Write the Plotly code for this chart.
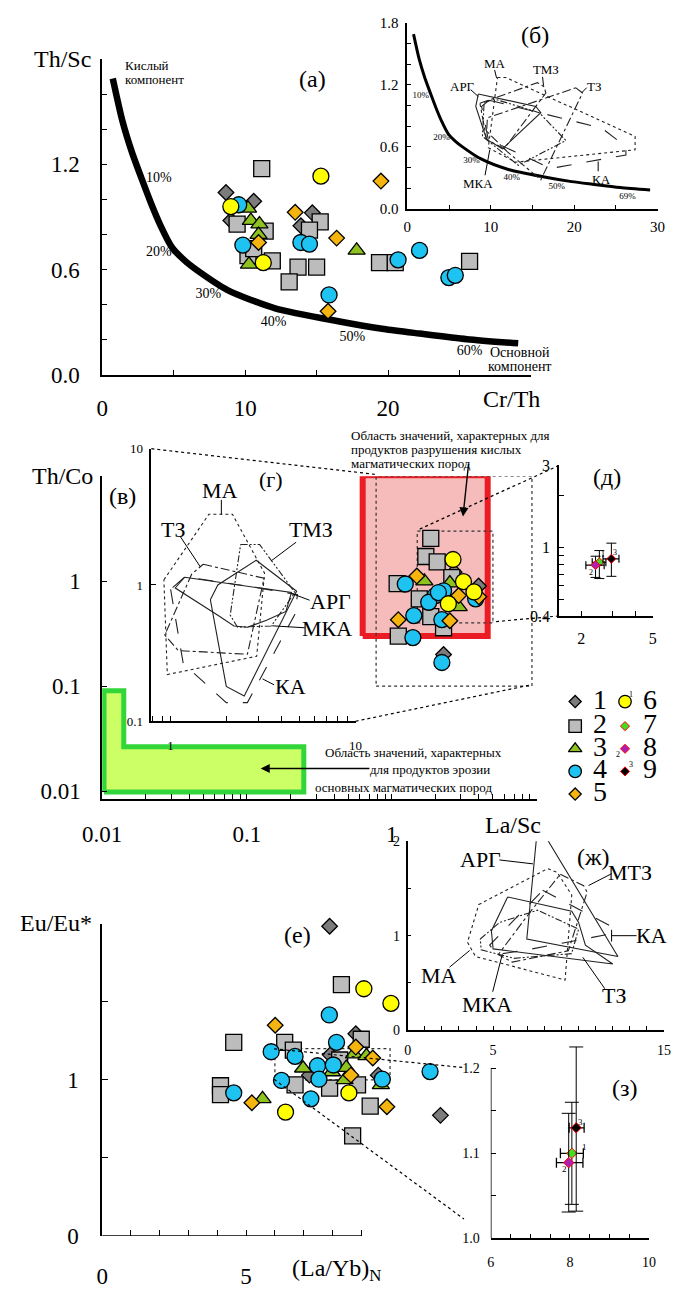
import plotly.graph_objects as go
import math

W, H = 680, 1293
FONT = "'Liberation Serif', 'Times New Roman', Times, 'DejaVu Serif', serif"


def dx(p):
    return p / W


def dy(p):
    return 1 - p / H


# ======================= DATA =======================
# ---- Panel (а): Cr/Th (x) vs Th/Sc (y) ----
a1_x = [8.66, 10.6, 9.0, 14.7, 13.9]
a1_y = [1.04, 0.99, 0.88, 0.924, 0.85]
a2_x = [11.16, 9.44, 11.4, 10.2, 10.6, 11.9, 13.7, 15.0, 13.08, 15.25, 14.5, 19.4, 20.5, 25.7]
a2_y = [1.176, 0.86, 0.82, 0.68, 0.72, 0.65, 0.615, 0.615, 0.53, 0.873, 0.826, 0.64, 0.64, 0.647]
a3_x = [10.2, 10.4, 11.0, 10.94, 10.27, 17.8]
a3_y = [0.95, 0.88, 0.86, 0.80, 0.63, 0.71]
a4_x = [9.55, 9.84, 13.9, 14.5, 15.87, 20.7, 22.2, 24.25, 24.7]
a4_y = [0.97, 0.74, 0.755, 0.746, 0.456, 0.656, 0.71, 0.555, 0.568]
a5_x = [10.94, 15.8, 13.5, 16.4, 19.5]
a5_y = [0.755, 0.363, 0.927, 0.78, 1.105]
a6_x = [15.3, 9.0, 11.27]
a6_y = [1.133, 0.96, 0.64]

# mixing curve (acid - basic component)
mix_x = [0.74, 1.41, 2.08, 2.8, 3.41, 4.09, 4.9, 5.8, 6.65, 8.77, 12.1, 16.6, 19.7, 22.2, 25.5, 29.1]
mix_y = [1.69, 1.45, 1.27, 1.11, 0.98, 0.85, 0.725, 0.65, 0.596, 0.484, 0.38, 0.305, 0.262, 0.236, 0.204, 0.18]
pct_a_text = ["10%", "20%", "30%", "40%", "50%", "60%"]
pct_a_x = [3.97, 3.97, 7.43, 12.0, 17.5, 25.7]
pct_a_y = [1.12, 0.70, 0.46, 0.30, 0.213, 0.135]

# ---- Inset (б) ----
pct_b_text = ["10%", "20%", "30%", "40%", "50%", "69%"]
pct_b_x = [1.6, 4.1, 7.7, 12.5, 17.9, 26.4]
pct_b_y = [1.09, 0.69, 0.46, 0.30, 0.21, 0.12]
b_MA_x = [10.8, 11.8, 27.3, 27.3, 13.0, 9.7, 10.8]
b_MA_y = [1.27, 1.27, 0.70, 0.57, 0.45, 0.59, 1.27]
b_TMZ_x = [8.7, 15.6, 16.4, 16.6, 11.6, 9.5, 8.7]
b_TMZ_y = [1.02, 1.22, 1.18, 1.12, 0.58, 0.67, 1.02]
b_TZ_x = [20.2, 21.0, 16.0, 12.0, 9.5, 9.6, 20.2]
b_TZ_y = [1.17, 1.12, 0.28, 0.55, 0.75, 0.88, 1.17]
b_ARG_x = [8.5, 15.4, 16.0, 11.4, 9.5, 8.2, 8.5]
b_ARG_y = [1.11, 0.99, 0.93, 0.58, 0.67, 0.99, 1.11]
b_KA_x = [9.8, 23.3, 26.2, 26.2, 17.2, 9.7, 8.9, 9.8]
b_KA_y = [1.05, 0.78, 0.60, 0.52, 0.39, 0.67, 0.99, 1.05]
b_MKA_x = [9.2, 10.5, 15.8, 19.0, 13.3, 9.0, 9.2]
b_MKA_y = [1.03, 1.06, 0.93, 0.66, 0.42, 0.70, 1.03]

# ---- Panel (в): La/Sc (x) vs Th/Co (y), log-log ----
v1_x = [2.7, 3.98, 2.28]
v1_y = [1.22, 0.90, 0.20]
v2_x = [1.86, 1.72, 2.06, 2.6, 1.09, 1.55, 1.86, 1.11, 2.28]
v2_y = [2.56, 1.72, 1.53, 1.08, 0.95, 0.68, 0.46, 0.30, 0.36]
v3_x = [1.68, 2.52, 2.9]
v3_y = [1.0, 0.96, 0.57]
v4_x = [1.24, 2.28, 2.0, 1.8, 3.8, 1.42, 2.22, 1.40, 2.22, 2.1]
v4_y = [0.94, 0.81, 0.73, 0.63, 0.68, 0.47, 0.43, 0.29, 0.168, 0.78]
v5_x = [1.49, 2.9, 2.52, 1.11, 4.0]
v5_y = [1.12, 0.73, 0.42, 0.43, 0.71]
v6_x = [2.65, 3.13, 3.7, 2.46]
v6_y = [1.61, 0.99, 0.79, 0.61]

acid_x = [0.63, 4.6]       # field of acid-rock products
acid_y = [0.30, 10.2]
basic_x = [0.0103, 0.0103, 0.0141, 0.0141, 0.247, 0.247, 0.0103]   # field of basic-rock products
basic_y = [0.0098, 0.0905, 0.0905, 0.0265, 0.0265, 0.0098, 0.0098]
box_g_x = [0.78, 9.3]      # area magnified in (г)
box_g_y = [0.1, 10.0]
box_d_x = [1.5, 5.0]       # area magnified in (д)
box_d_y = [0.4, 3.0]

# ---- Inset (г) polygons ----
g_MA_x = [0.92, 1.61, 2.16, 3.22, 2.92, 0.96, 0.92]
g_MA_y = [1.09, 3.3, 3.3, 1.22, 0.30, 0.22, 1.09]
g_TZ_x = [1.5, 3.2, 2.6, 1.1, 0.93, 1.3, 1.5]
g_TZ_y = [1.42, 1.12, 0.31, 0.33, 0.43, 1.2, 1.42]
g_ARG_x = [1.19, 4.5, 4.2, 3.3, 2.6, 2.2, 1.8, 1.06, 1.19]
g_ARG_y = [1.14, 0.88, 0.64, 0.55, 0.49, 0.50, 0.60, 0.95, 1.14]
g_TMZ_x = [1.64, 1.8, 2.9, 4.8, 2.5, 2.0, 1.64]
g_TMZ_y = [0.78, 1.0, 1.52, 0.9, 0.153, 0.18, 0.78]
g_MKA_x = [2.39, 3.03, 4.7, 3.5, 2.3, 2.1, 2.39]
g_MKA_y = [1.98, 1.98, 0.88, 0.5, 0.49, 0.6, 1.98]
g_KA_x = [1.0, 1.17, 2.0, 2.6, 4.7, 4.85, 3.0, 1.2, 1.0]
g_KA_y = [0.93, 0.265, 0.137, 0.137, 0.61, 0.85, 0.95, 1.15, 0.93]

# ---- Inset (д): averages 7, 8, 9 ----
d_x = [2.52, 2.40, 2.94]
d_y = [0.82, 0.79, 0.86]
d_xerr = [0.22, 0.28, 0.30]
d_yerr_p = [0.14, 0.10, 0.20]
d_yerr_m = [0.16, 0.12, 0.18]

# ---- Panel (е): (La/Yb)N vs Eu/Eu* ----
e1_x = [7.9, 8.81, 7.92, 7.2, 9.59, 11.75]
e1_y = [1.985, 1.295, 1.16, 1.03, 1.03, 0.772]
e2_x = [8.31, 4.57, 6.34, 9.0, 6.64, 8.25, 6.7, 7.9, 8.87, 4.11, 4.11, 9.31, 8.7]
e2_y = [1.61, 1.24, 1.24, 1.26, 1.19, 1.127, 0.968, 0.947, 0.968, 0.962, 0.905, 0.831, 0.641]
e3_x = [8.75, 9.18, 6.98, 8.48, 7.98, 9.68, 8.42, 5.57]
e3_y = [1.165, 1.154, 1.074, 1.078, 1.05, 0.968, 1.0, 0.878]
e4_x = [7.89, 8.14, 5.87, 6.7, 7.48, 8.03, 6.23, 7.53, 9.73, 4.57, 7.25, 11.39]
e4_y = [1.416, 1.24, 1.18, 1.15, 1.09, 1.095, 0.996, 1.004, 1.004, 0.916, 0.878, 1.053]
e5_x = [6.01, 8.81, 9.4, 8.64, 5.2, 9.89]
e5_y = [1.35, 1.21, 1.14, 1.03, 0.853, 0.827]
e6_x = [9.09, 10.03, 8.57, 6.37]
e6_y = [1.584, 1.49, 0.916, 0.793]
box_z_x = [6.0, 10.0]     # area magnified in (з)
box_z_y = [1.0, 1.2]

# ---- Inset (ж) polygons ----
zh_ARG_x = [7.53, 8.1, 12.3, 6.97, 7.53]
zh_ARG_y = [2.02, 2.04, 0.78, 0.965, 2.02]
zh_MA_x = [4.16, 8.19, 8.75, 9.6, 9.21, 3.97, 3.5, 4.16]
zh_MA_y = [1.33, 1.71, 1.67, 1.43, 0.53, 0.78, 0.93, 1.33]
zh_MTZ_x = [8.93, 10.3, 10.5, 9.4, 6.12, 5.3, 7.25, 8.93]
zh_MTZ_y = [1.65, 1.53, 1.46, 0.84, 0.72, 0.80, 1.27, 1.65]
zh_KA_x = [7.9, 11.9, 11.9, 7.0, 5.2, 4.8, 7.9]
zh_KA_y = [1.48, 1.10, 1.02, 0.85, 0.80, 0.90, 1.48]
zh_TZ_x = [5.85, 9.6, 10.0, 10.4, 12.0, 5.0, 4.9, 5.85]
zh_TZ_y = [1.41, 1.26, 1.14, 0.90, 0.70, 0.86, 1.05, 1.41]
zh_MKA_x = [4.25, 5.38, 7.6, 10.0, 9.59, 6.22, 4.3, 4.25]
zh_MKA_y = [0.965, 1.14, 1.27, 1.07, 0.81, 0.76, 0.85, 0.965]

# ---- Inset (з): averages 7, 8, 9 ----
z_x = [8.05, 7.97, 8.16]
z_y = [1.10, 1.089, 1.13]
z_xerr_p = [0.29, 0.36, 0.20]
z_xerr_m = [0.29, 0.31, 0.18]
z_yerr_p = [0.06, 0.058, 0.095]
z_yerr_m = [0.06, 0.058, 0.098]

legend_labels = ["1", "2", "3", "4", "5", "6", "7", "8", "9"]

# ======================= STYLES =======================
GS = {
    1: ("diamond", "#7c7c7c", 12),
    2: ("square", "#bcbcbc", 16),
    3: ("triangle-up", "#8dc21f", 15),
    4: ("circle", "#1fc3f1", 16),
    5: ("diamond", "#f6b50e", 12),
    6: ("circle", "#ffff00", 16),
}
AVG = {7: "#44dd22", 8: "#b020b0", 9: "#000000"}

fig = go.Figure()


def pts(g, x, y, xa, ya, scale=1.0):
    sym, col, sz = GS[g]
    fig.add_trace(go.Scatter(x=x, y=y, xaxis=xa, yaxis=ya, mode="markers",
                             marker=dict(symbol=sym, color=col, size=sz * scale,
                                         line=dict(color="black", width=1.3)),
                             cliponaxis=False, hoverinfo="skip"))


def poly(x, y, xa, ya, dash, w=1.1, col="#222"):
    fig.add_trace(go.Scatter(x=x, y=y, xaxis=xa, yaxis=ya, mode="lines",
                             line=dict(color=col, width=w, dash=dash), hoverinfo="skip"))


DDOT = "7px,2px,2px,2px,2px,2px"

# ---- (а) ----
fig.add_trace(go.Scatter(x=mix_x, y=mix_y, xaxis="x", yaxis="y", mode="lines",
                         line=dict(color="black", width=6.5, shape="spline", smoothing=0.7), hoverinfo="skip"))
fig.add_trace(go.Scatter(x=pct_a_x, y=pct_a_y, xaxis="x", yaxis="y", mode="text", text=pct_a_text,
                         textfont=dict(family=FONT, size=14, color="black"), hoverinfo="skip"))
for g, (xx, yy) in zip(range(1, 7), [(a1_x, a1_y), (a2_x, a2_y), (a3_x, a3_y), (a4_x, a4_y), (a5_x, a5_y), (a6_x, a6_y)]):
    pts(g, xx, yy, "x", "y")

# ---- (б) ----
fig.add_trace(go.Scatter(x=mix_x, y=mix_y, xaxis="x2", yaxis="y2", mode="lines",
                         line=dict(color="black", width=3, shape="spline", smoothing=0.7), hoverinfo="skip"))
fig.add_trace(go.Scatter(x=pct_b_x, y=pct_b_y, xaxis="x2", yaxis="y2", mode="text", text=pct_b_text,
                         textfont=dict(family=FONT, size=9, color="black"), hoverinfo="skip"))
poly(b_MA_x, b_MA_y, "x2", "y2", "dot")
poly(b_TMZ_x, b_TMZ_y, "x2", "y2", "dashdot")
poly(b_TZ_x, b_TZ_y, "x2", "y2", "dashdot")
poly(b_ARG_x, b_ARG_y, "x2", "y2", "solid")
poly(b_KA_x, b_KA_y, "x2", "y2", "longdash")
poly(b_MKA_x, b_MKA_y, "x2", "y2", DDOT)

# ---- (в) ----
fig.add_trace(go.Scatter(x=basic_x, y=basic_y, xaxis="x3", yaxis="y3", mode="lines", fill="toself",
                         fillcolor="#ccff66", line=dict(color="#33d63a", width=5), hoverinfo="skip"))
fig.add_trace(go.Scatter(x=[acid_x[0], acid_x[1], acid_x[1], acid_x[0], acid_x[0]],
                         y=[acid_y[0], acid_y[0], acid_y[1], acid_y[1], acid_y[0]],
                         xaxis="x3", yaxis="y3", mode="lines", fill="toself",
                         fillcolor="#f6bcbc", line=dict(color="#ec1c24", width=6), hoverinfo="skip"))
for bx, by in [(box_g_x, box_g_y), (box_d_x, box_d_y)]:
    poly([bx[0], bx[1], bx[1], bx[0], bx[0]], [by[0], by[0], by[1], by[1], by[0]], "x3", "y3", "dot", 1.2, "#333")
for g, (xx, yy) in zip(range(1, 7), [(v1_x, v1_y), (v2_x, v2_y), (v3_x, v3_y), (v4_x, v4_y), (v5_x, v5_y), (v6_x, v6_y)]):
    pts(g, xx, yy, "x3", "y3")

# ---- (г) ----
poly(g_MA_x, g_MA_y, "x4", "y4", "dot")
poly(g_TZ_x, g_TZ_y, "x4", "y4", "dashdot")
poly(g_ARG_x, g_ARG_y, "x4", "y4", "solid")
poly(g_TMZ_x, g_TMZ_y, "x4", "y4", "solid")
poly(g_MKA_x, g_MKA_y, "x4", "y4", DDOT)
poly(g_KA_x, g_KA_y, "x4", "y4", "longdash")

# ---- (д) ----
for i, k in enumerate([7, 8, 9]):
    fig.add_trace(go.Scatter(x=[d_x[i]], y=[d_y[i]], xaxis="x5", yaxis="y5", mode="markers",
                             marker=dict(symbol="diamond", size=7, color=AVG[k], line=dict(color="red", width=1)),
                             error_x=dict(type="data", array=[d_xerr[i]], color="black", thickness=1.2, width=4),
                             error_y=dict(type="data", array=[d_yerr_p[i]], arrayminus=[d_yerr_m[i]],
                                          color="black", thickness=1, width=5),
                             cliponaxis=False, hoverinfo="skip"))

# ---- (е) ----
poly([box_z_x[0], box_z_x[1], box_z_x[1], box_z_x[0], box_z_x[0]],
     [box_z_y[0], box_z_y[0], box_z_y[1], box_z_y[1], box_z_y[0]], "x6", "y6", "dot", 1.2, "#333")
for g, (xx, yy) in zip(range(1, 7), [(e1_x, e1_y), (e2_x, e2_y), (e3_x, e3_y), (e4_x, e4_y), (e5_x, e5_y), (e6_x, e6_y)]):
    pts(g, xx, yy, "x6", "y6")

# ---- (ж) ----
poly(zh_ARG_x, zh_ARG_y, "x7", "y7", "solid")
poly(zh_MA_x, zh_MA_y, "x7", "y7", "dot")
poly(zh_MTZ_x, zh_MTZ_y, "x7", "y7", "dashdot")
poly(zh_KA_x, zh_KA_y, "x7", "y7", "longdash")
poly(zh_TZ_x, zh_TZ_y, "x7", "y7", "solid")
poly(zh_MKA_x, zh_MKA_y, "x7", "y7", DDOT)

# ---- (з) ----
for i, k in enumerate([7, 8, 9]):
    fig.add_trace(go.Scatter(x=[z_x[i]], y=[z_y[i]], xaxis="x8", yaxis="y8", mode="markers",
                             marker=dict(symbol="diamond", size=8, color=AVG[k], line=dict(color="red", width=1)),
                             error_x=dict(type="data", array=[z_xerr_p[i]], arrayminus=[z_xerr_m[i]],
                                          color="black", thickness=1.3, width=5),
                             error_y=dict(type="data", array=[z_yerr_p[i]], arrayminus=[z_yerr_m[i]],
                                          color="black", thickness=1, width=7),
                             cliponaxis=False, hoverinfo="skip"))

# ---- legend keys (page pixel overlay) ----
leg_px = [(579, 705), (579, 730), (579, 753), (579, 776), (579, 799), (631, 705), (631, 730), (631, 753), (631, 776)]
for i, (lx, ly) in enumerate(leg_px):
    g = i + 1
    if g <= 6:
        sym, col, sz = GS[g]
        mk = dict(symbol=sym, color=col, size=sz * 0.78, line=dict(color="black", width=1.3))
    else:
        mk = dict(symbol="diamond", color=AVG[g], size=7, line=dict(color="red", width=1))
    fig.add_trace(go.Scatter(x=[lx], y=[ly], xaxis="x9", yaxis="y9", mode="markers", marker=mk,
                             cliponaxis=False, hoverinfo="skip"))
    fig.add_trace(go.Scatter(x=[lx + 26], y=[ly], xaxis="x9", yaxis="y9", mode="text",
                             text=[legend_labels[i]], textfont=dict(family=FONT, size=28, color="black"),
                             cliponaxis=False, hoverinfo="skip"))


# ======================= AXES =======================
def axis(dom_px, rng, horiz, typ="linear", tv=None, tt=None, size=22, standoff=0, ticklen=5,
         showline=True, anchor=None):
    if horiz:
        dom = [dx(dom_px[0]), dx(dom_px[1])]
    else:
        dom = [dy(dom_px[1]), dy(dom_px[0])]
    return dict(domain=dom, range=rng, type=typ, tickmode="array", tickvals=tv, ticktext=tt,
                ticks="inside", ticklen=ticklen, tickwidth=1.3, tickcolor="black",
                showline=showline, linecolor="black", linewidth=1.5, showgrid=False,
                zeroline=False, tickfont=dict(family=FONT, size=size, color="black"),
                ticklabelstandoff=standoff, anchor=anchor, fixedrange=True)


def lbl(vals, show, fmt):
    return [fmt(v) if any(abs(v - s) < 1e-9 for s in show) else "" for v in vals]


# (а)
xa_t = [0, 5, 10, 15, 20, 25, 30]
ya_t = [0, 0.2, 0.4, 0.6, 0.8, 1.0, 1.2, 1.4, 1.6, 1.8]
lay = dict(
    xaxis=axis([85.7, 533], [0, 30], True, tv=xa_t, tt=lbl(xa_t, [0, 10, 20], lambda v: f"{v:g}"),
               size=23, standoff=12, anchor="y"),
    yaxis=axis([52, 373], [0, 1.8], False, tv=ya_t, tt=lbl(ya_t, [0, 0.6, 1.2], lambda v: f"{v:.1f}"),
               size=23, standoff=16, anchor="x"),
)
# (б)
xb_t = [0, 5, 10, 15, 20, 25, 30]
yb_t = ya_t
lay["xaxis2"] = axis([404, 665], [0, 30], True, tv=xb_t, tt=lbl(xb_t, [0, 10, 20, 30], lambda v: f"{v:g}"),
                     size=15, standoff=4, ticklen=4, anchor="y2")
lay["yaxis2"] = axis([15, 204], [0, 1.8], False, tv=yb_t, tt=lbl(yb_t, [0, 0.6, 1.2, 1.8], lambda v: f"{v:.1f}"),
                     size=15, standoff=4, ticklen=4, anchor="x2")
# (в)
xv_t = [m * 10 ** e for e in (-2, -1, 0) for m in range(1, 10)] + [10]
xv_tt = ["0.01" if v == 0.01 else "0.1" if abs(v - 0.1) < 1e-12 else "1" if v == 1 else "" for v in xv_t]
yv_t = [0.01, 0.1, 1, 10]
lay["xaxis3"] = axis([85.7, 538.7], [-2, 1], True, typ="log", tv=xv_t, tt=xv_tt, size=23, standoff=14, anchor="y3")
lay["yaxis3"] = axis([476, 804], [-2.075, 1], False, typ="log", tv=yv_t, tt=["0.01", "0.1", "1", ""],
                     size=23, standoff=15, anchor="x3")
# (г)
xg_t = [0.8, 0.9] + list(range(1, 11))
lay["xaxis4"] = axis([137, 350], [math.log10(0.787), 1.0], True, typ="log", tv=xg_t,
                     tt=["1" if v == 1 else "10" if v == 10 else "" for v in xg_t],
                     size=13, standoff=11, ticklen=5, anchor="y4")
lay["yaxis4"] = axis([448, 725], [-1, 1], False, typ="log", tv=[0.1, 1, 10], tt=["0.1", "1", "10"],
                     size=13, standoff=4, ticklen=5, anchor="x4")
# (д)
xd_t = [2, 3, 4, 5]
yd_t = [0.4, 0.5, 0.6, 0.7, 0.8, 0.9, 1, 2, 3]
lay["xaxis5"] = axis([562, 660], [math.log10(1.5), math.log10(5)], True, typ="log", tv=xd_t,
                     tt=["2", "", "", "5"], size=16, standoff=7, ticklen=5, anchor="y5")
lay["yaxis5"] = axis([465, 618], [math.log10(0.4), math.log10(3)], False, typ="log", tv=yd_t,
                     tt=["0.4", "", "", "", "", "", "1", "", "3"], size=16, standoff=4, ticklen=5, anchor="x5")
# (е)
xe_t = list(range(0, 10))
ye_t = [0, 0.5, 1, 1.5, 2]
lay["xaxis6"] = axis([85.7, 452], [0, 12.2], True, tv=xe_t, tt=lbl(xe_t, [0, 5], lambda v: f"{v:g}"),
                     size=23, standoff=24, ticklen=6, showline=False, anchor="y6")
lay["yaxis6"] = axis([931, 1248], [0, 2], False, tv=ye_t, tt=lbl(ye_t, [0, 1], lambda v: f"{v:g}"),
                     size=23, standoff=17, ticklen=6, anchor="x6")
# (ж)
xz_t = list(range(0, 16))
yz_t = [0, 0.5, 1, 1.5, 2]
lay["xaxis7"] = axis([404.3, 671.7], [0, 15], True, tv=xz_t, tt=lbl(xz_t, [0, 5, 15], lambda v: f"{v:g}"),
                     size=14, standoff=6, ticklen=4, anchor="y7")
lay["yaxis7"] = axis([847, 1039], [0, 2], False, tv=yz_t, tt=lbl(yz_t, [0, 1, 2], lambda v: f"{v:g}"),
                     size=14, standoff=3, ticklen=4, anchor="x7")
# (з)
x3_t = [6, 6.5, 7, 7.5, 8, 8.5, 9, 9.5, 10]
y3_t = [1.0, 1.05, 1.1, 1.15, 1.2]
lay["xaxis8"] = axis([491, 656], [6, 10], True, tv=x3_t, tt=lbl(x3_t, [6, 8, 10], lambda v: f"{v:g}"),
                     size=14, standoff=10, ticklen=5, anchor="y8")
lay["yaxis8"] = axis([1051.8, 1250.7], [1.0, 1.23], False, tv=y3_t, tt=lbl(y3_t, [1.0, 1.1, 1.2], lambda v: f"{v:.1f}"),
                     size=14, standoff=10, ticklen=5, showline=False, anchor="x8")
# page-pixel overlay
lay["xaxis9"] = dict(domain=[0, 1], range=[0, W], visible=False, fixedrange=True, anchor="y9")
lay["yaxis9"] = dict(domain=[0, 1], range=[H, 0], visible=False, fixedrange=True, anchor="x9")


# ======================= TEXT & LINES =======================
def T(text, x, y, size=22, xa="center", ya="middle"):
    return dict(text=text, x=x, y=y, xref="x9", yref="y9", showarrow=False, xanchor=xa, yanchor=ya,
                font=dict(family=FONT, size=size, color="black"))


ann = [
    # (а)
    T("Th/Sc", 44, 52, 24), T("(а)", 305, 72, 24),
    T("Кислый", 107, 58, 13, "left"), T("компонент", 107, 73, 13, "left"),
    T("Основной", 488, 350, 14, "left"), T("компонент", 486, 364, 14, "left"),
    T("Cr/Th", 513, 397, 24),
    # (б)
    T("(б)", 537, 27, 24),
    T("МА", 495, 56, 13), T("ТМЗ", 549, 63, 13), T("ТЗ", 599, 80, 13), T("АРГ", 461, 80, 13),
    T("МКА", 478, 178, 13), T("КА", 606, 174, 13),
    # (в)
    T("Th/Co", 44, 476, 24), T("(в)", 107, 496, 24), T("La/Sc", 514, 830, 24),
    T("Область значений, характерных для", 343, 435, 13, "left"),
    T("продуктов разрушения кислых", 343, 449, 13, "left"),
    T("магматических пород", 343, 463, 13, "left"),
    T("Область значений, характерных", 410, 757, 13),
    T("для продуктов эрозии", 428, 774, 13),
    T("основных магматических пород", 400, 792, 13),
    # (г)
    T("(г)", 262, 479, 22), T("МА", 209, 490, 22), T("ТЗ", 160, 530, 22), T("ТМЗ", 303, 530, 22),
    T("АРГ", 324, 603, 22), T("МКА", 320, 631, 22), T("КА", 282, 690, 22),
    # (д)
    T("(д)", 612, 477, 24),
    T("1", 608, 556, 8), T("2", 595, 574, 8), T("3", 621, 553, 8),
    # legend superscripts
    T("1", 637, 698, 8), T("2", 624, 759, 8), T("3", 637, 769, 8),
    # (е)
    T("Eu/Eu*", 38, 930, 24), T("(е)", 289, 942, 24), T("(La/Yb)<sub>N</sub>", 330, 1283, 24),
    # (ж)
    T("(ж)", 598, 863, 24), T("АРГ", 480, 866, 22), T("МТЗ", 636, 879, 22), T("КА", 659, 943, 22),
    T("ТЗ", 620, 1004, 22), T("МКА", 487, 1013, 22), T("МА", 437, 983, 22),
    # (з)
    T("(з)", 630, 1098, 24),
    T("3", 585, 1132, 9), T("1", 589, 1158, 9), T("2", 568, 1180, 9),
]
# arrows
ann.append(dict(x=462, y=517, ax=468, ay=462, xref="x9", yref="y9", axref="x9", ayref="y9", text="",
                showarrow=True, arrowhead=2, arrowsize=1.3, arrowwidth=1.4, arrowcolor="black"))
ann.append(dict(x=251, y=773, ax=366, ay=773, xref="x9", yref="y9", axref="x9", ayref="y9", text="",
                showarrow=True, arrowhead=2, arrowsize=1.3, arrowwidth=1.4, arrowcolor="black"))


def L(x0, y0, x1, y1, dash="solid", w=1.0, ref=("x9", "y9")):
    return dict(type="line", xref=ref[0], yref=ref[1], x0=x0, y0=y0, x1=x1, y1=y1,
                line=dict(color="black", width=w, dash=dash), layer="above")


shapes = [
    # leaders (б)
    L(495, 63, 497, 71), L(545, 70, 546, 79), L(591, 81, 586, 86), L(470, 83, 478, 90),
    L(485, 170, 490, 144), L(603, 166, 603, 156),
    # leaders (г)
    L(210, 500, 210, 515), L(167, 537, 188, 568), L(288, 543, 262, 562), L(302, 602, 283, 595),
    L(297, 630, 263, 628), L(265, 688, 253, 682),
    # leaders (ж)
    L(500, 866, 535, 870), L(617, 880, 593, 892), L(643, 943, 617, 943), L(617, 937, 617, 949),
    L(610, 997, 587, 965), L(493, 1000, 503, 962), L(448, 975, 469, 958),
    # magnification lines
    L(137, 448, 370, 474, "dot", 1.2), L(350, 725, 533, 688, "dot", 1.2),
    L(562, 465, 414, 531, "dot", 1.2), L(562, 618, 493, 624, "dot", 1.2),
    L(265, 1058, 462, 1077, "dot", 1.2), L(265, 1089, 463, 1231, "dot", 1.2),
    # axis lines drawn partially
    L(0, 0, 9, 0, "solid", 1.5, ("x6", "y6")),
    L(6, 1.0, 6, 1.2, "solid", 1.5, ("x8", "y8")),
]

fig.update_layout(width=W, height=H, margin=dict(l=0, r=0, t=0, b=0), showlegend=False,
                  paper_bgcolor="white", plot_bgcolor="rgba(0,0,0,0)",
                  font=dict(family=FONT, color="black"),
                  annotations=ann, shapes=shapes, **lay)
fig.write_html("out.html")
